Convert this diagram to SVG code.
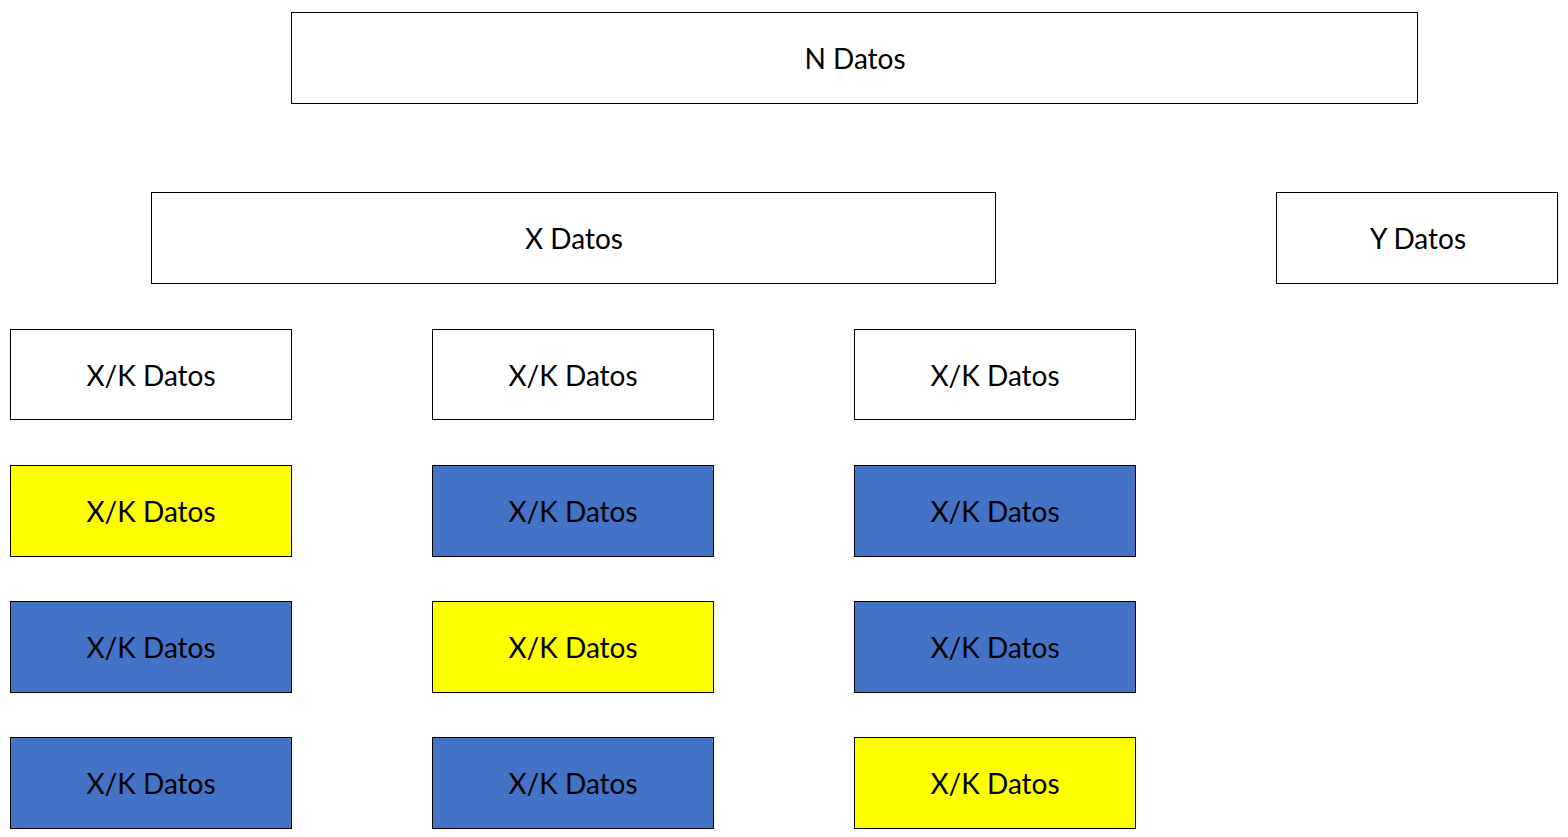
<svg xmlns="http://www.w3.org/2000/svg" width="1568" height="837" viewBox="0 0 1568 837">
<style>
.w,.y,.b{stroke:#000;stroke-width:1}
.w{fill:#fff}.y{fill:#ffff00}.b{fill:#4472c4}
text{font-family:Lato,"Open Sans",sans-serif;font-size:28px;fill:#000;text-anchor:middle}
</style>
<g id="n"><rect class="w" x="291.5" y="12.5" width="1126" height="91"/><text x="855" y="69">N Datos</text></g>
<g id="x"><rect class="w" x="151.5" y="192.5" width="844" height="91"/><text x="574" y="249">X Datos</text></g>
<g id="ydat"><rect class="w" x="1276.5" y="192.5" width="281" height="91"/><text x="1418" y="249">Y Datos</text></g>
<g id="c1r1"><rect class="w" x="10.5" y="329.5" width="281" height="90"/><text x="151" y="386">X/K Datos</text></g>
<g id="c2r1"><rect class="w" x="432.5" y="329.5" width="281" height="90"/><text x="573" y="386">X/K Datos</text></g>
<g id="c3r1"><rect class="w" x="854.5" y="329.5" width="281" height="90"/><text x="995" y="386">X/K Datos</text></g>
<g id="c1r2"><rect class="y" x="10.5" y="465.5" width="281" height="91"/><text x="151" y="522">X/K Datos</text></g>
<g id="c2r2"><rect class="b" x="432.5" y="465.5" width="281" height="91"/><text x="573" y="522">X/K Datos</text></g>
<g id="c3r2"><rect class="b" x="854.5" y="465.5" width="281" height="91"/><text x="995" y="522">X/K Datos</text></g>
<g id="c1r3"><rect class="b" x="10.5" y="601.5" width="281" height="91"/><text x="151" y="658">X/K Datos</text></g>
<g id="c2r3"><rect class="y" x="432.5" y="601.5" width="281" height="91"/><text x="573" y="658">X/K Datos</text></g>
<g id="c3r3"><rect class="b" x="854.5" y="601.5" width="281" height="91"/><text x="995" y="658">X/K Datos</text></g>
<g id="c1r4"><rect class="b" x="10.5" y="737.5" width="281" height="91"/><text x="151" y="794">X/K Datos</text></g>
<g id="c2r4"><rect class="b" x="432.5" y="737.5" width="281" height="91"/><text x="573" y="794">X/K Datos</text></g>
<g id="c3r4"><rect class="y" x="854.5" y="737.5" width="281" height="91"/><text x="995" y="794">X/K Datos</text></g>
<g id="connectors"></g>
</svg>
